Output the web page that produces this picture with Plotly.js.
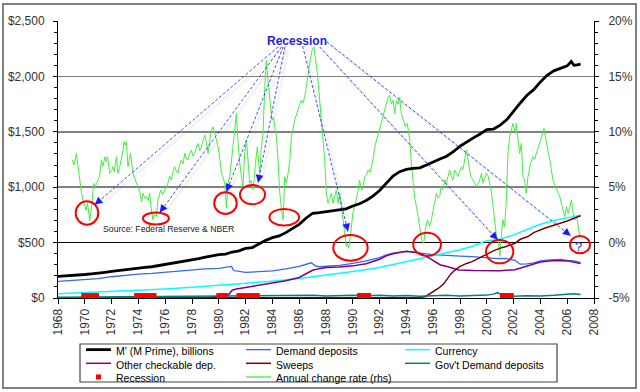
<!DOCTYPE html>
<html><head><meta charset="utf-8">
<script src="https://cdn.plot.ly/plotly-3.0.1.min.js"></script>
<style>html,body{margin:0;padding:0;background:#fff;} #chart{width:640px;height:392px;}</style>
</head><body><div id="chart"></div>
<script>
// ---------------- DATA ----------------
const yearTicks = [1968,1970,1972,1974,1976,1978,1980,1982,1984,1986,1988,1990,1992,1994,1996,1998,2000,2002,2004,2006,2008];
const yearTickText = yearTicks.map(String);
const dollarTicks = [0,500,1000,1500,2000,2500];
const dollarTickText = ['$0','$500','$1,000','$1,500','$2,000','$2,500'];
const pctTicks = [-5,0,5,10,15,20];
const pctTickText = ['-5%','0%','5%','10%','15%','20%'];

// M' (M Prime), billions
const mPrime = [[1968,195],[1968.5,198],[1969,205],[1969.5,210],[1970,212],[1970.5,218],[1971,222],[1971.5,232],[1972,240],[1972.5,248],[1973,258],[1973.5,265],[1974,270],[1974.5,276],[1975,282],[1975.5,292],[1976,300],[1976.5,312],[1977,322],[1977.5,334],[1978,345],[1978.5,356],[1979,368],[1979.5,382],[1980,392],[1980.5,396],[1981,415],[1981.5,425],[1982,448],[1982.5,455],[1983,490],[1983.5,520],[1984,545],[1984.5,560],[1985,590],[1985.5,625],[1986,665],[1986.5,720],[1987,765],[1987.5,770],[1988,780],[1988.5,790],[1989,795],[1989.5,805],[1990,830],[1990.5,850],[1991,880],[1991.5,920],[1992,970],[1992.5,1040],[1993,1100],[1993.5,1140],[1994,1160],[1994.5,1170],[1995,1175],[1995.5,1200],[1996,1230],[1996.5,1255],[1997,1280],[1997.5,1320],[1998,1370],[1998.5,1410],[1999,1445],[1999.5,1480],[2000,1520],[2000.5,1525],[2001,1560],[2001.5,1610],[2002,1690],[2002.5,1760],[2003,1830],[2003.5,1880],[2004,1950],[2004.5,2010],[2005,2050],[2005.5,2070],[2006,2095],[2006.3,2135],[2006.5,2100],[2006.75,2105],[2007,2110]];

const demandDep = [[1968,150],[1969,160],[1970,165],[1971,175],[1972,192],[1973,205],[1974,215],[1975,222],[1976,232],[1977,242],[1978,255],[1979,262],[1980,268],[1980.8,280],[1980.95,285],[1981.1,248],[1981.5,238],[1982,232],[1983,238],[1984,245],[1985,262],[1986,285],[1986.9,318],[1987.2,290],[1987.5,282],[1988,285],[1989,295],[1990,312],[1991,335],[1992,365],[1992.5,390],[1993,405],[1994,420],[1994.5,415],[1995,405],[1996,392],[1997,388],[1998,378],[1998.9,373],[2000,362],[2000.8,355],[2001.36,358],[2002.1,340],[2002.5,305],[2003,308],[2003.5,318],[2004,335],[2004.5,342],[2005,345],[2005.5,348],[2006,340],[2006.5,335],[2007,320]];

const currency = [[1968,38],[1970,48],[1972,58],[1974,70],[1976,82],[1978,98],[1980,115],[1982,132],[1984,152],[1986,175],[1988,205],[1990,240],[1992,275],[1994,330],[1996,385],[1998,435],[1999,470],[1999.9,515],[2000.2,520],[2001,530],[2002,570],[2003,620],[2004,665],[2005,700],[2006,725],[2007,748]];

const otherCheck = [[1978.9,0],[1979.5,8],[1980,15],[1980.7,25],[1981,70],[1981.3,82],[1982,95],[1983,115],[1984,135],[1985,155],[1986,185],[1986.5,215],[1987,250],[1987.5,265],[1988,275],[1989,280],[1990,290],[1991,310],[1992,350],[1992.5,380],[1993,400],[1994,422],[1995,405],[1995.5,375],[1996.1,328],[1996.5,300],[1997.1,282],[1997.9,253],[1999,248],[2000.1,244],[2001,245],[2002.1,255],[2003,290],[2004,325],[2005,338],[2006,335],[2007,312]];

const sweeps = [[1968,0],[1994,0],[1995,5],[1995.4,12],[1995.8,40],[1996,60],[1996.4,88],[1996.8,130],[1997,165],[1997.3,215],[1997.6,250],[1998,285],[1998.5,312],[1998.9,328],[1999.5,365],[2000.1,403],[2000.5,425],[2001,450],[2001.4,463],[2002.1,494],[2002.5,530],[2003.07,555],[2003.5,590],[2004.3,630],[2005,655],[2005.57,675],[2006,695],[2006.5,720],[2007,742]];

const govDemand = [[1968,6],[1969,7],[1970,8],[1971,9],[1972,8],[1973,10],[1974,11],[1975,10],[1976,12],[1977,13],[1978,12],[1979,14],[1980,14],[1981,15],[1982,18],[1983,16],[1984,20],[1985,22],[1986,19],[1987,24],[1988,18],[1989,22],[1990,25],[1991,20],[1992,24],[1993,18],[1994,22],[1995,15],[1996,20],[1997,24],[1998,18],[1999,22],[2000,26],[2000.5,35],[2000.8,48],[2001.1,30],[2001.5,22],[2002,16],[2003,20],[2004,18],[2005,24],[2006,30],[2006.5,38],[2007,32]];

const recessionStart = [1969.92,1973.87,1980.0,1981.5,1990.5,2001.17];
const recessionEnd   = [1970.87,1975.17,1980.5,1982.87,1991.17,2001.83];

// Annual change rate (rhs), %
const annualChange = [[1969.05,7.5],[1969.2,7.0],[1969.37,8.05],[1969.5,6.8],[1969.6,5.6],[1969.75,4.5],[1969.87,3.85],[1970.0,3.4],[1970.1,2.9],[1970.2,3.6],[1970.3,2.6],[1970.37,2.0],[1970.5,3.2],[1970.58,4.5],[1970.66,5.35],[1970.76,5.0],[1970.86,5.35],[1970.98,5.6],[1971.1,5.95],[1971.24,7.45],[1971.36,6.9],[1971.5,7.75],[1971.6,7.3],[1971.7,7.75],[1971.86,6.25],[1972.0,6.5],[1972.1,6.85],[1972.2,6.4],[1972.36,7.75],[1972.48,6.25],[1972.6,6.8],[1972.73,7.45],[1972.85,8.3],[1972.93,9.1],[1973.02,8.8],[1973.1,9.1],[1973.22,6.85],[1973.32,7.5],[1973.42,8.05],[1973.52,7.0],[1973.6,6.25],[1973.72,5.8],[1973.85,5.35],[1974.0,5.0],[1974.1,4.6],[1974.22,3.7],[1974.35,4.45],[1974.48,4.0],[1974.6,4.15],[1974.72,3.8],[1974.84,4.45],[1974.97,2.95],[1975.09,2.05],[1975.2,2.6],[1975.34,2.35],[1975.46,3.85],[1975.56,4.2],[1975.66,4.75],[1975.8,4.3],[1975.96,4.75],[1976.08,5.0],[1976.2,5.35],[1976.33,6.0],[1976.46,5.65],[1976.58,6.4],[1976.7,6.85],[1976.82,6.5],[1976.95,6.25],[1977.08,7.0],[1977.2,7.45],[1977.33,7.1],[1977.46,8.05],[1977.58,7.6],[1977.7,7.45],[1977.82,8.0],[1977.95,8.35],[1978.08,7.8],[1978.2,8.05],[1978.33,8.6],[1978.45,8.95],[1978.58,8.3],[1978.7,8.65],[1978.82,9.2],[1978.95,9.7],[1979.08,9.0],[1979.2,8.05],[1979.33,9.3],[1979.45,10.15],[1979.57,10.45],[1979.7,9.8],[1979.82,9.25],[1979.95,8.65],[1980.08,7.5],[1980.2,6.25],[1980.32,5.9],[1980.44,5.35],[1980.57,3.1],[1980.63,4.2],[1980.69,5.35],[1980.82,6.0],[1980.94,7.15],[1981.06,8.7],[1981.19,10.15],[1981.32,11.65],[1981.38,10.0],[1981.44,8.65],[1981.56,7.2],[1981.69,5.95],[1981.8,5.05],[1981.93,8.05],[1982.06,9.25],[1982.18,7.45],[1982.3,5.35],[1982.42,5.6],[1982.55,4.75],[1982.65,5.8],[1982.73,7.15],[1982.88,8.65],[1983.05,6.25],[1983.18,8.65],[1983.3,9.85],[1983.43,14.05],[1983.55,16.45],[1983.67,14.65],[1983.77,13.4],[1983.87,12.85],[1983.97,11.05],[1984.07,11.3],[1984.17,10.45],[1984.3,9.55],[1984.42,7.45],[1984.55,4.45],[1984.68,3.0],[1984.8,2.05],[1984.92,5.95],[1985.05,5.4],[1985.17,6.25],[1985.3,7.45],[1985.42,9.55],[1985.54,10.45],[1985.66,11.05],[1985.78,11.5],[1985.91,11.95],[1986.03,12.3],[1986.16,12.85],[1986.28,12.6],[1986.41,13.15],[1986.53,14.05],[1986.66,15.25],[1986.78,16.15],[1986.96,17.35],[1987.1,17.65],[1987.2,16.75],[1987.36,15.25],[1987.53,12.85],[1987.66,11.05],[1987.78,9.55],[1987.9,7.45],[1988.03,4.45],[1988.15,3.55],[1988.28,4.0],[1988.4,4.45],[1988.52,3.55],[1988.65,4.2],[1988.77,4.75],[1988.9,3.55],[1989.02,4.45],[1989.15,3.25],[1989.27,2.05],[1989.4,0.85],[1989.52,-0.35],[1989.6,-0.1],[1989.7,-0.5],[1989.85,0.85],[1990.0,2.65],[1990.13,3.2],[1990.27,3.85],[1990.38,4.6],[1990.5,5.65],[1990.6,5.0],[1990.7,4.75],[1990.8,5.3],[1990.9,5.95],[1991.03,6.1],[1991.15,6.55],[1991.28,6.3],[1991.4,6.85],[1991.52,7.6],[1991.64,8.65],[1991.77,9.2],[1991.9,9.85],[1992.03,10.4],[1992.15,11.05],[1992.28,11.5],[1992.4,11.95],[1992.52,12.6],[1992.63,13.15],[1992.75,13.3],[1992.88,12.5],[1993.0,12.85],[1993.13,11.65],[1993.25,12.85],[1993.38,12.5],[1993.5,13.15],[1993.62,11.65],[1993.75,11.05],[1993.93,10.45],[1994.07,10.75],[1994.17,10.0],[1994.25,9.25],[1994.37,7.15],[1994.5,5.05],[1994.62,4.0],[1994.75,3.25],[1994.88,2.2],[1995.0,1.15],[1995.17,0.1],[1995.3,-0.05],[1995.4,1.15],[1995.57,2.05],[1995.73,1.45],[1995.86,2.05],[1996.06,3.25],[1996.24,4.45],[1996.36,4.0],[1996.48,4.15],[1996.6,5.05],[1996.73,4.8],[1996.86,5.65],[1996.98,5.3],[1997.1,5.95],[1997.23,6.55],[1997.35,6.0],[1997.48,5.65],[1997.6,6.55],[1997.72,6.2],[1997.85,5.95],[1997.97,6.4],[1998.1,6.85],[1998.22,6.6],[1998.35,7.45],[1998.47,8.35],[1998.6,7.45],[1998.7,6.8],[1998.8,5.95],[1998.97,5.65],[1999.1,5.4],[1999.22,5.05],[1999.35,5.3],[1999.47,5.65],[1999.6,6.25],[1999.72,5.35],[1999.85,5.8],[1999.97,6.25],[2000.1,6.0],[2000.2,5.35],[2000.35,4.45],[2000.47,3.25],[2000.6,1.75],[2000.72,0.55],[2000.85,0.25],[2000.97,-1.25],[2001.1,0.85],[2001.2,2.05],[2001.33,1.45],[2001.46,3.85],[2001.58,8.05],[2001.7,9.55],[2001.83,10.15],[2001.95,10.75],[2002.05,10.3],[2002.13,9.85],[2002.2,10.75],[2002.33,9.25],[2002.45,8.05],[2002.58,8.95],[2002.7,5.95],[2002.82,5.65],[2002.95,4.45],[2003.07,5.95],[2003.17,6.6],[2003.27,7.15],[2003.44,7.75],[2003.57,7.5],[2003.7,8.05],[2003.82,8.65],[2003.92,8.9],[2004.02,9.25],[2004.12,9.7],[2004.2,10.15],[2004.27,10.3],[2004.37,9.55],[2004.52,8.65],[2004.6,8.0],[2004.7,7.45],[2004.82,6.5],[2004.94,5.65],[2005.07,5.2],[2005.2,4.75],[2005.32,4.5],[2005.44,4.15],[2005.57,3.55],[2005.7,2.95],[2005.82,2.35],[2005.94,3.25],[2006.07,2.65],[2006.2,3.25],[2006.32,3.85],[2006.44,2.65],[2006.57,2.05],[2006.7,2.35],[2006.82,1.45],[2006.94,0.55]];

// ---------------- CHART ----------------
const FONT = 'Arial, "Liberation Sans", sans-serif';
const L = 58, T = 21, W = 536, H = 277;
const px2x = p => (p - L) / W;
const py2y = p => (T + H - p) / H;
const PXX = W / 40, PXY = H / 2500; // px per year, px per $

const moneySeries = [
  {name: "M' (M Prime), billions", data: mPrime, color: '#000000', width: 2.8},
  {name: 'Demand deposits', data: demandDep, color: '#3366FF', width: 1.3},
  {name: 'Currency', data: currency, color: '#00FFFF', width: 1.5},
  {name: 'Other checkable dep.', data: otherCheck, color: '#800080', width: 1.5},
  {name: 'Sweeps', data: sweeps, color: '#800000', width: 1.5},
  {name: "Gov't Demand deposits", data: govDemand, color: '#008080', width: 1.5}
];
const greenColor = '#44EE44';
const recColor = '#FF0000';

const traces = [];
traces.push({type: 'scatter', mode: 'lines', name: 'Annual change rate (rhs)',
  x: annualChange.map(p => p[0]), y: annualChange.map(p => p[1]), yaxis: 'y',
  line: {color: greenColor, width: 1}, showlegend: false, hoverinfo: 'skip'});
[1,2,3,4,5].forEach(i => {
  const s = moneySeries[i];
  traces.push({type: 'scatter', mode: 'lines', name: s.name, x: s.data.map(p => p[0]), y: s.data.map(p => p[1]),
    yaxis: 'y2', line: {color: s.color, width: s.width}, showlegend: false, hoverinfo: 'skip'});
});
const rx = [], ry = [];
recessionStart.forEach((s, i) => { rx.push(s, recessionEnd[i], null); ry.push(22, 22, null); });
traces.push({type: 'scatter', mode: 'lines+markers', name: 'Recession', x: rx, y: ry, yaxis: 'y2',
  line: {color: recColor, width: 5}, marker: {symbol: 'square', size: 5, color: recColor},
  cliponaxis: false, showlegend: false, hoverinfo: 'skip'});
traces.push({type: 'scatter', mode: 'lines', name: moneySeries[0].name, x: mPrime.map(p => p[0]), y: mPrime.map(p => p[1]),
  yaxis: 'y2', line: {color: '#000', width: 2.8}, showlegend: false, hoverinfo: 'skip'});

// annotation geometry (data coords)
const ellipses = [[1969.32,1971.01,662,873],[1974.34,1976.28,663,772],[1979.66,1981.34,758,954],[1981.58,1983.45,846,1020],[1983.78,1985.99,654,803],[1988.54,1991.11,337,569],[1994.51,1996.58,379,589],[1999.94,2001.98,313,523],[2006.21,2007.7,403,560]];
const arrows = [[1984.44,2268,1970.74,841],[1984.69,2268,1975.59,771],[1984.81,2268,1980.57,960],[1984.94,2266,1982.93,1041],[1986.26,2273,1989.64,600],[1987.53,2266,2000.81,525],[1988.05,2313,2006.26,561]];

const shapes = [];
const annotations = [];
shapes.push({type: 'rect', xref: 'paper', yref: 'paper', x0: px2x(3), x1: px2x(636), y0: py2y(388), y1: py2y(4),
  line: {color: '#808080', width: 2}, fillcolor: 'rgba(0,0,0,0)'});
ellipses.forEach(e => shapes.push({type: 'circle', xref: 'x', yref: 'y2', x0: e[0], x1: e[1], y0: e[2], y1: e[3],
  line: {color: '#FF0000', width: 2}}));
arrows.forEach(a => {
  shapes.push({type: 'line', xref: 'x', yref: 'y2', layer: 'below', x0: a[0] + 3 / PXX, y0: a[1] - 3 / PXY, x1: a[2] + 3 / PXX, y1: a[3] - 3 / PXY,
    line: {color: 'rgba(170,170,170,0.13)', width: 3}});
  shapes.push({type: 'line', xref: 'x', yref: 'y2', x0: a[0], y0: a[1], x1: a[2], y1: a[3],
    line: {color: 'rgba(40,40,255,0.85)', width: 1, dash: '3px,2px'}});
  const dx = (a[0] - a[2]) * PXX, dy = -(a[1] - a[3]) * PXY;
  const len = Math.sqrt(dx*dx + dy*dy);
  annotations.push({xref: 'x', yref: 'y2', x: a[2], y: a[3], ax: dx / len * 9, ay: dy / len * 9, text: '',
    showarrow: true, arrowhead: 2, arrowsize: 1.3, arrowwidth: 1.2, arrowcolor: '#1a1aff'});
});
annotations.push({xref: 'x', yref: 'y2', x: 1985.84, y: 2319, text: '<b>Recession</b>', showarrow: false,
  font: {family: FONT, size: 12, color: '#2020EE'}});
annotations.push({xref: 'x', yref: 'y2', x: 2006.83, y: 469, text: '?', showarrow: false,
  font: {family: FONT, size: 13, color: '#2020EE'}});
annotations.push({xref: 'x', yref: 'y2', x: 1971.21, y: 623, text: 'Source: Federal Reserve &amp; NBER', showarrow: false,
  xanchor: 'left', font: {family: FONT, size: 8.7, color: '#222'}});

// custom legend built from the series definitions (3 columns x 3 rows)
const legendItems = moneySeries.map(s => ({name: s.name, color: s.color, width: s.width, kind: 'line'}));
legendItems.push({name: 'Recession', color: recColor, kind: 'marker'});
legendItems.push({name: 'Annual change rate (rhs)', color: greenColor, width: 1.3, kind: 'line'});
shapes.push({type: 'rect', xref: 'paper', yref: 'paper', x0: px2x(80), x1: px2x(557), y0: py2y(382), y1: py2y(344),
  line: {color: '#444', width: 1.2}, fillcolor: 'rgba(0,0,0,0)'});
const LEG_FS = 10.5, LEG_LH = LEG_FS * 1.3;
const colX = [86, 246, 405], midY = 363.3;
const rowY = [midY - LEG_LH, midY, midY + LEG_LH];
const colText = [[], [], []];
legendItems.forEach((it, i) => {
  const c = i % 3, r = Math.floor(i / 3);
  const x0 = colX[c], yv = rowY[r];
  if (it.kind === 'line') {
    shapes.push({type: 'line', xref: 'paper', yref: 'paper', x0: px2x(x0), x1: px2x(x0 + 25), y0: py2y(yv), y1: py2y(yv),
      line: {color: it.color, width: it.width}});
  } else {
    shapes.push({type: 'rect', xref: 'paper', yref: 'paper', x0: px2x(x0 + 10), x1: px2x(x0 + 15), y0: py2y(yv + 2.5), y1: py2y(yv - 2.5),
      line: {width: 0}, fillcolor: it.color});
  }
  colText[c].push(it.name.replace(/&/g, '&amp;'));
});
colText.forEach((lines, c) => {
  annotations.push({xref: 'paper', yref: 'paper', x: px2x(colX[c] + 28), y: py2y(rowY[0] - LEG_LH / 2), xanchor: 'left', yanchor: 'top',
    align: 'left', text: lines.join('<br>'), showarrow: false, font: {family: FONT, size: LEG_FS, color: '#000'}});
});

const tickFont = {family: FONT, size: 12, color: '#333'};
const layout = {
  width: 640, height: 392,
  margin: {l: L, r: 640 - L - W, t: T, b: 392 - T - H, pad: 0},
  paper_bgcolor: '#fff', plot_bgcolor: '#fff',
  showlegend: false,
  xaxis: {range: [1968, 2008], tickmode: 'array', tickvals: yearTicks, ticktext: yearTickText, tickangle: -90,
    ticks: 'outside', ticklen: 5, tickcolor: '#000', showgrid: false, zeroline: false, showline: true, linecolor: '#000', linewidth: 1,
    tickfont: tickFont},
  yaxis: {range: [-5, 20], side: 'right', tickmode: 'array', tickvals: pctTicks, ticktext: pctTickText,
    ticks: 'outside', ticklen: 4, tickcolor: '#000', showline: true, linecolor: '#000', linewidth: 1,
    showgrid: true, gridcolor: '#808080', gridwidth: 1.5, zeroline: true, zerolinecolor: '#000', zerolinewidth: 1,
    minor: {tickmode: 'linear', tick0: 0, dtick: 1, ticks: 'outside', ticklen: 3, tickcolor: '#000', showgrid: false},
    tickfont: tickFont, ticklabelstandoff: 7},
  yaxis2: {range: [0, 2500], side: 'left', overlaying: 'y', tickmode: 'array', tickvals: dollarTicks, ticktext: dollarTickText,
    ticks: 'outside', ticklen: 4, tickcolor: '#000', showline: true, linecolor: '#000', linewidth: 1,
    showgrid: false, zeroline: false,
    minor: {tickmode: 'linear', tick0: 0, dtick: 100, ticks: 'outside', ticklen: 3, tickcolor: '#000', showgrid: false},
    tickfont: tickFont, ticklabelstandoff: 6},
  shapes: shapes,
  annotations: annotations
};
Plotly.newPlot('chart', traces, layout, {displayModeBar: false, staticPlot: true});
</script>
</body></html>
